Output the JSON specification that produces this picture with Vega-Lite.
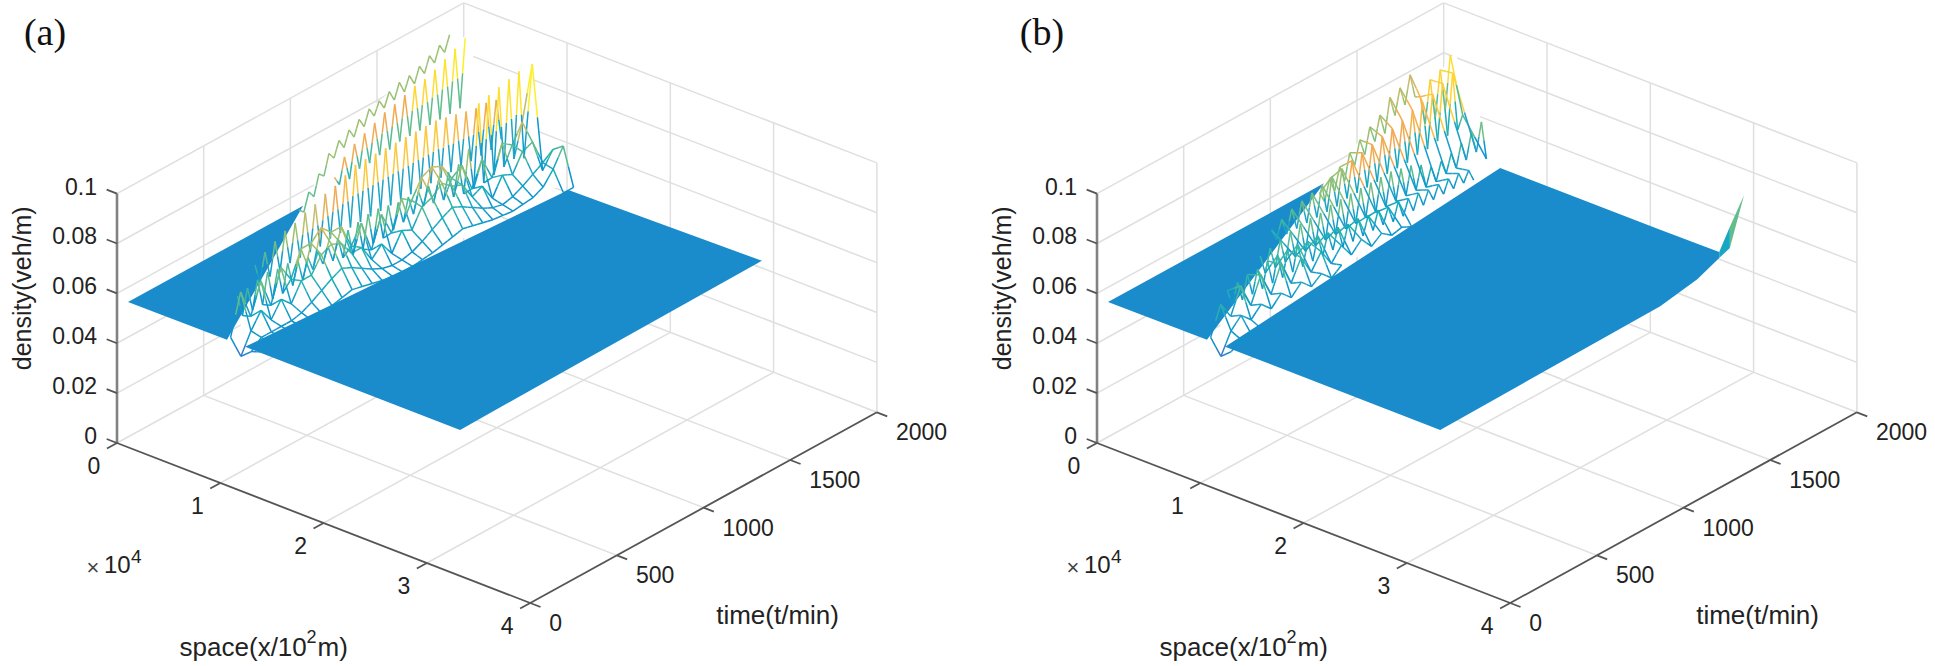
{"$schema":"https://vega.github.io/schema/vega-lite/v6.json","width":1935,"height":666,"autosize":{"type":"fit","contains":"padding"},"padding":0,"background":"white","config":{"view":{"stroke":null}},
"data":{"values":[
{"k":"f","p":["a","b"],"s":10000,"t":0,"d":0,"t2":2000},{"k":"f","p":["a","b"],"s":20000,"t":0,"d":0,"t2":2000},{"k":"f","p":["a","b"],"s":30000,"t":0,"d":0,"t2":2000},
{"k":"f","p":["a","b"],"s":0,"t":500,"d":0,"s2":40000},{"k":"f","p":["a","b"],"s":0,"t":1000,"d":0,"s2":40000},{"k":"f","p":["a","b"],"s":0,"t":1500,"d":0,"s2":40000},
{"k":"f","p":["a","b"],"s":0,"t":0,"d":0,"t2":2000},{"k":"f","p":["a","b"],"s":0,"t":2000,"d":0,"s2":40000},
{"k":"f","p":["a","b"],"s":0,"t":500,"d":0,"d2":0.1},{"k":"f","p":["a","b"],"s":0,"t":1000,"d":0,"d2":0.1},{"k":"f","p":["a","b"],"s":0,"t":1500,"d":0,"d2":0.1},{"k":"f","p":["a","b"],"s":0,"t":2000,"d":0,"d2":0.1},
{"k":"f","p":["a","b"],"s":0,"t":0,"d":0.02,"t2":2000},{"k":"f","p":["a","b"],"s":0,"t":0,"d":0.04,"t2":2000},{"k":"f","p":["a","b"],"s":0,"t":0,"d":0.06,"t2":2000},{"k":"f","p":["a","b"],"s":0,"t":0,"d":0.08,"t2":2000},{"k":"f","p":["a","b"],"s":0,"t":0,"d":0.1,"t2":2000},
{"k":"f","p":["a","b"],"s":10000,"t":2000,"d":0,"d2":0.1},{"k":"f","p":["a","b"],"s":20000,"t":2000,"d":0,"d2":0.1},{"k":"f","p":["a","b"],"s":30000,"t":2000,"d":0,"d2":0.1},{"k":"f","p":["a","b"],"s":40000,"t":2000,"d":0,"d2":0.1},
{"k":"f","p":["a","b"],"s":0,"t":2000,"d":0.02,"s2":40000},{"k":"f","p":["a","b"],"s":0,"t":2000,"d":0.04,"s2":40000},{"k":"f","p":["a","b"],"s":0,"t":2000,"d":0.06,"s2":40000},{"k":"f","p":["a","b"],"s":0,"t":2000,"d":0.08,"s2":40000},{"k":"f","p":["a","b"],"s":0,"t":2000,"d":0.1,"s2":40000},
{"k":"z","p":["a","b"],"s":0,"t":0,"d":0,"d2":0.1},
{"k":"a","p":["a","b"],"s":0,"t":0,"d":0,"s2":40000},{"k":"a","p":["a","b"],"s":40000,"t":0,"d":0,"t2":2000},
{"k":"a","p":["a","b"],"s":0,"t":0,"d":0,"s2":-1000},{"k":"a","p":["a","b"],"s":0,"t":0,"d":0.02,"s2":-1000},{"k":"a","p":["a","b"],"s":0,"t":0,"d":0.04,"s2":-1000},{"k":"a","p":["a","b"],"s":0,"t":0,"d":0.06,"s2":-1000},{"k":"a","p":["a","b"],"s":0,"t":0,"d":0.08,"s2":-1000},{"k":"a","p":["a","b"],"s":0,"t":0,"d":0.1,"s2":-1000},
{"k":"a","p":["a","b"],"s":0,"t":0,"d":0,"t2":-58},{"k":"a","p":["a","b"],"s":10000,"t":0,"d":0,"t2":-58},{"k":"a","p":["a","b"],"s":20000,"t":0,"d":0,"t2":-58},{"k":"a","p":["a","b"],"s":30000,"t":0,"d":0,"t2":-58},{"k":"a","p":["a","b"],"s":40000,"t":0,"d":0,"t2":-58},
{"k":"a","p":["a","b"],"s":40000,"t":0,"d":0,"s2":41000},{"k":"a","p":["a","b"],"s":40000,"t":500,"d":0,"s2":41000},{"k":"a","p":["a","b"],"s":40000,"t":1000,"d":0,"s2":41000},{"k":"a","p":["a","b"],"s":40000,"t":1500,"d":0,"s2":41000},{"k":"a","p":["a","b"],"s":40000,"t":2000,"d":0,"s2":41000},
{"k":"lz","p":["a","b"],"s":0,"t":0,"d":0,"txt":"0"},{"k":"lz","p":["a","b"],"s":0,"t":0,"d":0.02,"txt":"0.02"},{"k":"lz","p":["a","b"],"s":0,"t":0,"d":0.04,"txt":"0.04"},{"k":"lz","p":["a","b"],"s":0,"t":0,"d":0.06,"txt":"0.06"},{"k":"lz","p":["a","b"],"s":0,"t":0,"d":0.08,"txt":"0.08"},{"k":"lz","p":["a","b"],"s":0,"t":0,"d":0.1,"txt":"0.1"},
{"k":"ls","p":["a","b"],"s":0,"t":0,"d":0,"txt":"0"},{"k":"ls","p":["a","b"],"s":10000,"t":0,"d":0,"txt":"1"},{"k":"ls","p":["a","b"],"s":20000,"t":0,"d":0,"txt":"2"},{"k":"ls","p":["a","b"],"s":30000,"t":0,"d":0,"txt":"3"},{"k":"ls","p":["a","b"],"s":40000,"t":0,"d":0,"txt":"4"},
{"k":"lt","p":["a","b"],"s":40000,"t":0,"d":0,"txt":"0"},{"k":"lt","p":["a","b"],"s":40000,"t":500,"d":0,"txt":"500"},{"k":"lt","p":["a","b"],"s":40000,"t":1000,"d":0,"txt":"1000"},{"k":"lt","p":["a","b"],"s":40000,"t":1500,"d":0,"txt":"1500"},{"k":"lt","p":["a","b"],"s":40000,"t":2000,"d":0,"txt":"2000"},
{"k":"td","p":["a","b"],"s":0,"t":0,"d":0.05,"txt":"density(veh/m)"},{"k":"tt","p":["a","b"],"s":40000,"t":1000,"d":0,"txt":"time(t/min)"},
{"k":"t1","p":["a","b"],"s":20000,"t":0,"d":0,"txt":"space(x/10"},{"k":"t2","p":["a","b"],"s":20000,"t":0,"d":0,"txt":"2"},{"k":"t3","p":["a","b"],"s":20000,"t":0,"d":0,"txt":"m)"},
{"k":"e1","p":["a","b"],"s":0,"t":0,"d":0,"txt":"×"},{"k":"e2","p":["a","b"],"s":0,"t":0,"d":0,"txt":"10"},{"k":"e3","p":["a","b"],"s":0,"t":0,"d":0,"txt":"4"},
{"k":"pa","p":"a","s":0,"t":0,"d":0.1,"txt":"(a)"},{"k":"pb","p":"b","s":0,"t":0,"d":0.1,"txt":"(b)"},
{"k":"w","p":"a","s":11000,"t":58,"d":0.075,"s2":11900,"t2":0,"d2":0.06},{"k":"w","p":"a","s":3000,"t":894,"d":0.0653,"s2":14000,"t2":239,"d2":0.06},{"k":"w","p":"a","s":3000,"t":1067,"d":0.0826,"s2":14000,"t2":412,"d2":0.06},{"k":"w","p":"a","s":3000,"t":1321,"d":0.0908,"s2":14000,"t2":666,"d2":0.06},{"k":"w","p":"a","s":3000,"t":1529,"d":0.0946,"s2":14000,"t2":874,"d2":0.06},{"k":"w","p":"a","s":3000,"t":1754,"d":0.1022,"s2":14000,"t2":1099,"d2":0.06},{"k":"w","p":"a","s":5000,"t":1742,"d":0.103,"s2":14000,"t2":1204,"d2":0.06},{"k":"w","p":"a","s":6000,"t":1740,"d":0.08,"s2":14000,"t2":1260,"d2":0.06},{"k":"w","p":"a","s":11000,"t":1740,"d":0.103,"s2":14000,"t2":1560,"d2":0.06},{"k":"w","p":"a","s":12000,"t":1740,"d":0.062,"s2":14000,"t2":1625,"d2":0.06},{"k":"w","p":"a","s":14000,"t":1740,"d":0.075,"s2":14000,"t2":1740,"d2":0.06},
{"k":"w","p":"b","s":11000,"t":58,"d":0.071,"s2":11900,"t2":0,"d2":0.06},{"k":"w","p":"b","s":5000,"t":971,"d":0.0695,"s2":11000,"t2":613,"d2":0.06},{"k":"w","p":"b","s":5000,"t":1162,"d":0.08,"s2":11000,"t2":804,"d2":0.06},{"k":"w","p":"b","s":5000,"t":1520,"d":0.0995,"s2":11000,"t2":1162,"d2":0.06},{"k":"w","p":"b","s":5000,"t":1548,"d":0.086,"s2":11000,"t2":1191,"d2":0.06},{"k":"w","p":"b","s":5000,"t":1767,"d":0.097,"s2":11000,"t2":1410,"d2":0.06},{"k":"w","p":"b","s":8000,"t":1733,"d":0.0773,"s2":10000,"t2":1612,"d2":0.06},{"k":"w","p":"b","s":10000,"t":1740,"d":0.06},
{"k":"g","g":"a1","p":"a","c":0.058,"s":1065,"t":0,"d":0.0582},{"k":"g","g":"a1","p":"a","c":0.058,"s":1065,"t":571,"d":0.0582,"s2":10650,"t2":0,"d2":0.0585},{"k":"g","g":"a1","p":"a","c":0.058,"s":1065,"t":1010,"d":0.0582},
{"k":"g","g":"a2","p":"a","c":0.058,"s":12400,"t":0,"d":0.0585},{"k":"g","g":"a2","p":"a","c":0.058,"s":13796,"t":1157,"d":0.0583,"s2":33200,"t2":0,"d2":0.0585},{"k":"g","g":"a2","p":"a","c":0.058,"s":14500,"t":1740,"d":0.0582,"s2":33200,"t2":625,"d2":0.059},{"k":"g","g":"a2","p":"a","c":0.058,"s":33200,"t":1742,"d":0.0597},
{"k":"g","g":"b1","p":"b","c":0.058,"s":1065,"t":0,"d":0.0582},{"k":"g","g":"b1","p":"b","c":0.058,"s":1065,"t":571,"d":0.0582,"s2":10650,"t2":0,"d2":0.0585},{"k":"g","g":"b1","p":"b","c":0.058,"s":1065,"t":1246,"d":0.0582},
{"k":"g","g":"b2","p":"b","c":0.058,"s":12400,"t":0,"d":0.0585},{"k":"g","g":"b2","p":"b","c":0.058,"s":10367,"t":1362,"d":0.0592,"s2":33200,"t2":0,"d2":0.0585},{"k":"g","g":"b2","p":"b","c":0.058,"s":9800,"t":1742,"d":0.0594,"s2":33200,"t2":346,"d2":0.0588},{"k":"g","g":"b2","p":"b","c":0.058,"s":25289,"t":1742,"d":0.0595,"s2":33200,"t2":1269,"d2":0.0596},{"k":"g","g":"b2","p":"b","c":0.058,"s":28880,"t":1742,"d":0.0596,"s2":33200,"t2":1482,"d2":0.0622},{"k":"g","g":"b2","p":"b","c":0.058,"s":31000,"t":1742,"d":0.0597,"s2":33200,"t2":1609,"d2":0.0659},
{"k":"g","g":"b3","p":"b","c":0.067,"s":31000,"t":1742,"d":0.0597,"s2":33200,"t2":1609,"d2":0.0659},{"k":"g","g":"b3","p":"b","c":0.067,"s":32000,"t":1744,"d":0.0714,"s2":33200,"t2":1673,"d2":0.0675},
{"k":"g","g":"b4","p":"b","c":0.076,"s":32000,"t":1744,"d":0.0714,"s2":33200,"t2":1673,"d2":0.0675},{"k":"g","g":"b4","p":"b","c":0.076,"s":33200,"t":1754,"d":0.0855},
{"p":"a","s":3000,"t":870,"d":0.065,"c":0.076},{"p":"a","s":3000,"t":899,"d":0.063,"c":0.076},{"p":"a","s":3000,"t":928,"d":0.07,"c":0.076},{"p":"a","s":3000,"t":957,"d":0.067,"c":0.076},{"p":"a","s":3000,"t":986,"d":0.075,"c":0.078},{"p":"a","s":3000,"t":1015,"d":0.073,"c":0.078},{"p":"a","s":3000,"t":1044,"d":0.081,"c":0.08},{"p":"a","s":3000,"t":1073,"d":0.078,"c":0.08},{"p":"a","s":3000,"t":1102,"d":0.084,"c":0.08},{"p":"a","s":3000,"t":1131,"d":0.08,"c":0.08},{"p":"a","s":3000,"t":1160,"d":0.086,"c":0.08},{"p":"a","s":3000,"t":1189,"d":0.082,"c":0.08},{"p":"a","s":3000,"t":1218,"d":0.088,"c":0.08},{"p":"a","s":3000,"t":1247,"d":0.084,"c":0.08},{"p":"a","s":3000,"t":1276,"d":0.09,"c":0.08},{"p":"a","s":3000,"t":1305,"d":0.086,"c":0.08},{"p":"a","s":3000,"t":1334,"d":0.091,"c":0.08},{"p":"a","s":3000,"t":1363,"d":0.087,"c":0.08},{"p":"a","s":3000,"t":1392,"d":0.0925,"c":0.08},{"p":"a","s":3000,"t":1421,"d":0.088,"c":0.08},{"p":"a","s":3000,"t":1450,"d":0.094,"c":0.08},{"p":"a","s":3000,"t":1479,"d":0.089,"c":0.08},{"p":"a","s":3000,"t":1508,"d":0.0945,"c":0.08},{"p":"a","s":3000,"t":1537,"d":0.09,"c":0.08},{"p":"a","s":3000,"t":1566,"d":0.096,"c":0.08},{"p":"a","s":3000,"t":1595,"d":0.092,"c":0.08},{"p":"a","s":3000,"t":1624,"d":0.098,"c":0.08},{"p":"a","s":3000,"t":1653,"d":0.094,"c":0.08},{"p":"a","s":3000,"t":1682,"d":0.1,"c":0.08},{"p":"a","s":3000,"t":1711,"d":0.096,"c":0.08},{"p":"a","s":3000,"t":1740,"d":0.102,"c":0.08},
{"p":"a","s":4500,"t":986,"d":0.076,"c":0.086},{"p":"a","s":4500,"t":1015,"d":0.072},{"p":"a","s":4500,"t":1044,"d":0.082,"c":0.086},{"p":"a","s":4500,"t":1073,"d":0.072},{"p":"a","s":4500,"t":1102,"d":0.085,"c":0.086},{"p":"a","s":4500,"t":1131,"d":0.074},{"p":"a","s":4500,"t":1160,"d":0.087,"c":0.086},{"p":"a","s":4500,"t":1189,"d":0.074},{"p":"a","s":4500,"t":1218,"d":0.089,"c":0.086},{"p":"a","s":4500,"t":1247,"d":0.075},{"p":"a","s":4500,"t":1276,"d":0.091,"c":0.086},{"p":"a","s":4500,"t":1305,"d":0.075},{"p":"a","s":4500,"t":1334,"d":0.092,"c":0.086},{"p":"a","s":4500,"t":1363,"d":0.076},{"p":"a","s":4500,"t":1392,"d":0.0935,"c":0.086},{"p":"a","s":4500,"t":1421,"d":0.076},{"p":"a","s":4500,"t":1450,"d":0.095},{"p":"a","s":4500,"t":1479,"d":0.076},{"p":"a","s":4500,"t":1508,"d":0.0955},{"p":"a","s":4500,"t":1537,"d":0.076},{"p":"a","s":4500,"t":1566,"d":0.097},{"p":"a","s":4500,"t":1595,"d":0.076},{"p":"a","s":4500,"t":1624,"d":0.099},{"p":"a","s":4500,"t":1653,"d":0.076},{"p":"a","s":4500,"t":1682,"d":0.101},{"p":"a","s":4500,"t":1711,"d":0.076},{"p":"a","s":4500,"t":1740,"d":0.103},
{"p":"a","s":8000,"t":319,"d":0.072},{"p":"a","s":8000,"t":348,"d":0.064},{"p":"a","s":8000,"t":377,"d":0.075},{"p":"a","s":8000,"t":406,"d":0.064},{"p":"a","s":8000,"t":435,"d":0.077},{"p":"a","s":8000,"t":464,"d":0.064},{"p":"a","s":8000,"t":493,"d":0.079},{"p":"a","s":8000,"t":522,"d":0.065},{"p":"a","s":8000,"t":551,"d":0.08},{"p":"a","s":8000,"t":580,"d":0.065},{"p":"a","s":8000,"t":609,"d":0.082},{"p":"a","s":8000,"t":638,"d":0.065},{"p":"a","s":8000,"t":667,"d":0.083},{"p":"a","s":8000,"t":696,"d":0.065},{"p":"a","s":8000,"t":725,"d":0.085},{"p":"a","s":8000,"t":754,"d":0.066},{"p":"a","s":8000,"t":783,"d":0.086},{"p":"a","s":8000,"t":812,"d":0.066},{"p":"a","s":8000,"t":841,"d":0.088},{"p":"a","s":8000,"t":870,"d":0.066},{"p":"a","s":8000,"t":899,"d":0.09},{"p":"a","s":8000,"t":928,"d":0.066},{"p":"a","s":8000,"t":957,"d":0.09},{"p":"a","s":8000,"t":986,"d":0.066},{"p":"a","s":8000,"t":1015,"d":0.09},{"p":"a","s":8000,"t":1044,"d":0.066},{"p":"a","s":8000,"t":1073,"d":0.09},{"p":"a","s":8000,"t":1102,"d":0.066},{"p":"a","s":8000,"t":1131,"d":0.09},{"p":"a","s":8000,"t":1160,"d":0.066},{"p":"a","s":8000,"t":1189,"d":0.09},{"p":"a","s":8000,"t":1218,"d":0.066},{"p":"a","s":8000,"t":1247,"d":0.09},{"p":"a","s":8000,"t":1276,"d":0.066},{"p":"a","s":8000,"t":1305,"d":0.09},{"p":"a","s":8000,"t":1334,"d":0.066},{"p":"a","s":8000,"t":1363,"d":0.09},{"p":"a","s":8000,"t":1392,"d":0.066},{"p":"a","s":8000,"t":1421,"d":0.089},{"p":"a","s":8000,"t":1450,"d":0.066},{"p":"a","s":8000,"t":1479,"d":0.088},{"p":"a","s":8000,"t":1508,"d":0.066},{"p":"a","s":8000,"t":1537,"d":0.087},{"p":"a","s":8000,"t":1566,"d":0.066},{"p":"a","s":8000,"t":1595,"d":0.086},{"p":"a","s":8000,"t":1624,"d":0.066},{"p":"a","s":8000,"t":1653,"d":0.086},{"p":"a","s":8000,"t":1682,"d":0.066},{"p":"a","s":8000,"t":1711,"d":0.085},{"p":"a","s":8000,"t":1740,"d":0.068},
{"p":"a","s":10200,"t":87,"d":0.072},{"p":"a","s":10200,"t":116,"d":0.063},{"p":"a","s":10200,"t":145,"d":0.073},{"p":"a","s":10200,"t":174,"d":0.063},{"p":"a","s":10200,"t":203,"d":0.074},{"p":"a","s":10200,"t":232,"d":0.063},{"p":"a","s":10200,"t":261,"d":0.075},{"p":"a","s":10200,"t":290,"d":0.063},{"p":"a","s":10200,"t":319,"d":0.074},{"p":"a","s":10200,"t":348,"d":0.063},{"p":"a","s":10200,"t":377,"d":0.074},{"p":"a","s":10200,"t":406,"d":0.064},{"p":"a","s":10200,"t":435,"d":0.073},{"p":"a","s":10200,"t":464,"d":0.064},{"p":"a","s":10200,"t":493,"d":0.072},{"p":"a","s":10200,"t":522,"d":0.066},{"p":"a","s":10200,"t":551,"d":0.072},{"p":"a","s":10200,"t":580,"d":0.066},{"p":"a","s":10200,"t":609,"d":0.072},{"p":"a","s":10200,"t":638,"d":0.065},{"p":"a","s":10200,"t":667,"d":0.073},{"p":"a","s":10200,"t":696,"d":0.064},{"p":"a","s":10200,"t":725,"d":0.074},{"p":"a","s":10200,"t":754,"d":0.063},{"p":"a","s":10200,"t":783,"d":0.075},{"p":"a","s":10200,"t":812,"d":0.063},{"p":"a","s":10200,"t":841,"d":0.076},{"p":"a","s":10200,"t":870,"d":0.063},{"p":"a","s":10200,"t":899,"d":0.076},{"p":"a","s":10200,"t":928,"d":0.063},{"p":"a","s":10200,"t":957,"d":0.075},{"p":"a","s":10200,"t":986,"d":0.064},{"p":"a","s":10200,"t":1015,"d":0.074},{"p":"a","s":10200,"t":1044,"d":0.065},{"p":"a","s":10200,"t":1073,"d":0.074},{"p":"a","s":10200,"t":1102,"d":0.066},{"p":"a","s":10200,"t":1131,"d":0.074},{"p":"a","s":10200,"t":1160,"d":0.067},{"p":"a","s":10200,"t":1189,"d":0.074},{"p":"a","s":10200,"t":1218,"d":0.066},{"p":"a","s":10200,"t":1247,"d":0.074},{"p":"a","s":10200,"t":1276,"d":0.065},{"p":"a","s":10200,"t":1305,"d":0.075},{"p":"a","s":10200,"t":1334,"d":0.064},{"p":"a","s":10200,"t":1363,"d":0.076},{"p":"a","s":10200,"t":1392,"d":0.063},{"p":"a","s":10200,"t":1421,"d":0.08},{"p":"a","s":10200,"t":1450,"d":0.063},{"p":"a","s":10200,"t":1479,"d":0.096},{"p":"a","s":10200,"t":1508,"d":0.063},{"p":"a","s":10200,"t":1537,"d":0.097},{"p":"a","s":10200,"t":1566,"d":0.064},{"p":"a","s":10200,"t":1595,"d":0.098},{"p":"a","s":10200,"t":1624,"d":0.065},{"p":"a","s":10200,"t":1653,"d":0.099},{"p":"a","s":10200,"t":1682,"d":0.066},{"p":"a","s":10200,"t":1711,"d":0.1},{"p":"a","s":10200,"t":1740,"d":0.064},
{"p":"a","s":11000,"t":0,"d":0.06},{"p":"a","s":12000,"t":0,"d":0.054},{"p":"a","s":13000,"t":0,"d":0.0575},{"p":"a","s":14000,"t":0,"d":0.059},{"p":"a","s":11000,"t":58,"d":0.076},{"p":"a","s":12000,"t":58,"d":0.062},{"p":"a","s":13000,"t":58,"d":0.061},{"p":"a","s":14000,"t":58,"d":0.06},{"p":"a","s":11000,"t":116,"d":0.064},{"p":"a","s":12000,"t":116,"d":0.068},{"p":"a","s":13000,"t":116,"d":0.061},{"p":"a","s":14000,"t":116,"d":0.06},{"p":"a","s":11000,"t":174,"d":0.076},{"p":"a","s":12000,"t":174,"d":0.062},{"p":"a","s":13000,"t":174,"d":0.061},{"p":"a","s":14000,"t":174,"d":0.06},{"p":"a","s":11000,"t":232,"d":0.064},{"p":"a","s":12000,"t":232,"d":0.068},{"p":"a","s":13000,"t":232,"d":0.061},{"p":"a","s":14000,"t":232,"d":0.06},{"p":"a","s":11000,"t":290,"d":0.077},{"p":"a","s":12000,"t":290,"d":0.064},{"p":"a","s":13000,"t":290,"d":0.062},{"p":"a","s":14000,"t":290,"d":0.0605},{"p":"a","s":11000,"t":348,"d":0.07},{"p":"a","s":12000,"t":348,"d":0.071},{"p":"a","s":13000,"t":348,"d":0.064},{"p":"a","s":14000,"t":348,"d":0.061},{"p":"a","s":11000,"t":406,"d":0.08},{"p":"a","s":12000,"t":406,"d":0.071},{"p":"a","s":13000,"t":406,"d":0.0665},{"p":"a","s":14000,"t":406,"d":0.062},{"p":"a","s":11000,"t":464,"d":0.08},{"p":"a","s":12000,"t":464,"d":0.077},{"p":"a","s":13000,"t":464,"d":0.069},{"p":"a","s":14000,"t":464,"d":0.063},{"p":"a","s":11000,"t":522,"d":0.084},{"p":"a","s":12000,"t":522,"d":0.079},{"p":"a","s":13000,"t":522,"d":0.071},{"p":"a","s":14000,"t":522,"d":0.064},{"p":"a","s":11000,"t":580,"d":0.08},{"p":"a","s":12000,"t":580,"d":0.077},{"p":"a","s":13000,"t":580,"d":0.069},{"p":"a","s":14000,"t":580,"d":0.063},{"p":"a","s":11000,"t":638,"d":0.08},{"p":"a","s":12000,"t":638,"d":0.071},{"p":"a","s":13000,"t":638,"d":0.0665},{"p":"a","s":14000,"t":638,"d":0.062},{"p":"a","s":11000,"t":696,"d":0.07},{"p":"a","s":12000,"t":696,"d":0.071},{"p":"a","s":13000,"t":696,"d":0.064},{"p":"a","s":14000,"t":696,"d":0.061},{"p":"a","s":11000,"t":754,"d":0.077},{"p":"a","s":12000,"t":754,"d":0.064},{"p":"a","s":13000,"t":754,"d":0.062},{"p":"a","s":14000,"t":754,"d":0.0605},{"p":"a","s":11000,"t":812,"d":0.064},{"p":"a","s":12000,"t":812,"d":0.068},{"p":"a","s":13000,"t":812,"d":0.061},{"p":"a","s":14000,"t":812,"d":0.06},{"p":"a","s":11000,"t":870,"d":0.076},{"p":"a","s":12000,"t":870,"d":0.062},{"p":"a","s":13000,"t":870,"d":0.061},{"p":"a","s":14000,"t":870,"d":0.06},{"p":"a","s":11000,"t":928,"d":0.0664},{"p":"a","s":12000,"t":928,"d":0.069},{"p":"a","s":13000,"t":928,"d":0.062},{"p":"a","s":14000,"t":928,"d":0.0605},{"p":"a","s":11000,"t":986,"d":0.078},{"p":"a","s":12000,"t":986,"d":0.067},{"p":"a","s":13000,"t":986,"d":0.064},{"p":"a","s":14000,"t":986,"d":0.061},{"p":"a","s":11000,"t":1044,"d":0.075},{"p":"a","s":12000,"t":1044,"d":0.074},{"p":"a","s":13000,"t":1044,"d":0.0665},{"p":"a","s":14000,"t":1044,"d":0.062},{"p":"a","s":11000,"t":1102,"d":0.082},{"p":"a","s":12000,"t":1102,"d":0.0756},{"p":"a","s":13000,"t":1102,"d":0.069},{"p":"a","s":14000,"t":1102,"d":0.063},{"p":"a","s":11000,"t":1160,"d":0.084},{"p":"a","s":12000,"t":1160,"d":0.079},{"p":"a","s":13000,"t":1160,"d":0.071},{"p":"a","s":14000,"t":1160,"d":0.064},{"p":"a","s":11000,"t":1218,"d":0.082},{"p":"a","s":12000,"t":1218,"d":0.0756},{"p":"a","s":13000,"t":1218,"d":0.069},{"p":"a","s":14000,"t":1218,"d":0.063},{"p":"a","s":11000,"t":1276,"d":0.075},{"p":"a","s":12000,"t":1276,"d":0.074},{"p":"a","s":13000,"t":1276,"d":0.0665},{"p":"a","s":14000,"t":1276,"d":0.062},{"p":"a","s":11000,"t":1334,"d":0.078},{"p":"a","s":12000,"t":1334,"d":0.067},{"p":"a","s":13000,"t":1334,"d":0.064},{"p":"a","s":14000,"t":1334,"d":0.061},{"p":"a","s":11000,"t":1392,"d":0.0664},{"p":"a","s":12000,"t":1392,"d":0.069},{"p":"a","s":13000,"t":1392,"d":0.062},{"p":"a","s":14000,"t":1392,"d":0.0605},{"p":"a","s":11000,"t":1450,"d":0.076},{"p":"a","s":12000,"t":1450,"d":0.062},{"p":"a","s":13000,"t":1450,"d":0.061},{"p":"a","s":14000,"t":1450,"d":0.06},{"p":"a","s":11000,"t":1508,"d":0.0664},{"p":"a","s":12000,"t":1508,"d":0.069},{"p":"a","s":13000,"t":1508,"d":0.062},{"p":"a","s":14000,"t":1508,"d":0.0605},{"p":"a","s":11000,"t":1566,"d":0.078},{"p":"a","s":12000,"t":1566,"d":0.067},{"p":"a","s":13000,"t":1566,"d":0.064},{"p":"a","s":14000,"t":1566,"d":0.061},{"p":"a","s":11000,"t":1624,"d":0.075},{"p":"a","s":12000,"t":1624,"d":0.074},{"p":"a","s":13000,"t":1624,"d":0.0665},{"p":"a","s":14000,"t":1624,"d":0.063},{"p":"a","s":11000,"t":1682,"d":0.082},{"p":"a","s":12000,"t":1682,"d":0.0756},{"p":"a","s":13000,"t":1682,"d":0.069},{"p":"a","s":14000,"t":1682,"d":0.068},{"p":"a","s":15000,"t":1682,"d":0.06},{"p":"a","s":11000,"t":1740,"d":0.103},{"p":"a","s":12000,"t":1740,"d":0.062},{"p":"a","s":13000,"t":1740,"d":0.072},{"p":"a","s":14000,"t":1740,"d":0.075},{"p":"a","s":15000,"t":1740,"d":0.06},
{"p":"b","s":5000,"t":986,"d":0.0705,"c":0.08},{"p":"b","s":5000,"t":1015,"d":0.066,"c":0.078},{"p":"b","s":5000,"t":1044,"d":0.074,"c":0.08},{"p":"b","s":5000,"t":1073,"d":0.068,"c":0.078},{"p":"b","s":5000,"t":1102,"d":0.0765,"c":0.08},{"p":"b","s":5000,"t":1131,"d":0.07,"c":0.078},{"p":"b","s":5000,"t":1160,"d":0.08,"c":0.08},{"p":"b","s":5000,"t":1189,"d":0.074,"c":0.078},{"p":"b","s":5000,"t":1218,"d":0.083,"c":0.08},{"p":"b","s":5000,"t":1247,"d":0.076,"c":0.078},{"p":"b","s":5000,"t":1276,"d":0.086,"c":0.08},{"p":"b","s":5000,"t":1305,"d":0.079,"c":0.078},{"p":"b","s":5000,"t":1334,"d":0.0885,"c":0.081},{"p":"b","s":5000,"t":1363,"d":0.08,"c":0.079},{"p":"b","s":5000,"t":1392,"d":0.0934,"c":0.082},{"p":"b","s":5000,"t":1421,"d":0.085,"c":0.08},{"p":"b","s":5000,"t":1450,"d":0.095,"c":0.082},{"p":"b","s":5000,"t":1479,"d":0.087,"c":0.08},{"p":"b","s":5000,"t":1508,"d":0.098,"c":0.083},{"p":"b","s":5000,"t":1537,"d":0.088,"c":0.081},{"p":"b","s":5000,"t":1566,"d":0.087},{"p":"b","s":5000,"t":1595,"d":0.075},{"p":"b","s":5000,"t":1624,"d":0.0916},{"p":"b","s":5000,"t":1653,"d":0.075},{"p":"b","s":5000,"t":1682,"d":0.0933},{"p":"b","s":5000,"t":1711,"d":0.076},{"p":"b","s":5000,"t":1740,"d":0.097},
{"p":"b","s":6200,"t":638,"d":0.071},{"p":"b","s":6200,"t":667,"d":0.066},{"p":"b","s":6200,"t":696,"d":0.073},{"p":"b","s":6200,"t":725,"d":0.066},{"p":"b","s":6200,"t":754,"d":0.075},{"p":"b","s":6200,"t":783,"d":0.066},{"p":"b","s":6200,"t":812,"d":0.076},{"p":"b","s":6200,"t":841,"d":0.066},{"p":"b","s":6200,"t":870,"d":0.077},{"p":"b","s":6200,"t":899,"d":0.066},{"p":"b","s":6200,"t":928,"d":0.078},{"p":"b","s":6200,"t":957,"d":0.066},{"p":"b","s":6200,"t":986,"d":0.079},{"p":"b","s":6200,"t":1015,"d":0.066},{"p":"b","s":6200,"t":1044,"d":0.08},{"p":"b","s":6200,"t":1073,"d":0.067},{"p":"b","s":6200,"t":1102,"d":0.081,"c":0.086},{"p":"b","s":6200,"t":1131,"d":0.067},{"p":"b","s":6200,"t":1160,"d":0.082,"c":0.086},{"p":"b","s":6200,"t":1189,"d":0.067},{"p":"b","s":6200,"t":1218,"d":0.083,"c":0.086},{"p":"b","s":6200,"t":1247,"d":0.067},{"p":"b","s":6200,"t":1276,"d":0.084,"c":0.086},{"p":"b","s":6200,"t":1305,"d":0.068},{"p":"b","s":6200,"t":1334,"d":0.085,"c":0.086},{"p":"b","s":6200,"t":1363,"d":0.068},{"p":"b","s":6200,"t":1392,"d":0.086,"c":0.086},{"p":"b","s":6200,"t":1421,"d":0.068},{"p":"b","s":6200,"t":1450,"d":0.088,"c":0.087},{"p":"b","s":6200,"t":1479,"d":0.069},{"p":"b","s":6200,"t":1508,"d":0.089,"c":0.088},{"p":"b","s":6200,"t":1537,"d":0.069},{"p":"b","s":6200,"t":1566,"d":0.09},{"p":"b","s":6200,"t":1595,"d":0.07},{"p":"b","s":6200,"t":1624,"d":0.092},{"p":"b","s":6200,"t":1653,"d":0.07},{"p":"b","s":6200,"t":1682,"d":0.094},{"p":"b","s":6200,"t":1711,"d":0.07},{"p":"b","s":6200,"t":1740,"d":0.075},
{"p":"b","s":8500,"t":435,"d":0.072},{"p":"b","s":8500,"t":464,"d":0.064},{"p":"b","s":8500,"t":493,"d":0.073},{"p":"b","s":8500,"t":522,"d":0.064},{"p":"b","s":8500,"t":551,"d":0.074},{"p":"b","s":8500,"t":580,"d":0.064},{"p":"b","s":8500,"t":609,"d":0.075},{"p":"b","s":8500,"t":638,"d":0.064},{"p":"b","s":8500,"t":667,"d":0.076},{"p":"b","s":8500,"t":696,"d":0.064},{"p":"b","s":8500,"t":725,"d":0.076},{"p":"b","s":8500,"t":754,"d":0.064},{"p":"b","s":8500,"t":783,"d":0.076},{"p":"b","s":8500,"t":812,"d":0.064},{"p":"b","s":8500,"t":841,"d":0.077},{"p":"b","s":8500,"t":870,"d":0.064},{"p":"b","s":8500,"t":899,"d":0.077},{"p":"b","s":8500,"t":928,"d":0.064},{"p":"b","s":8500,"t":957,"d":0.077},{"p":"b","s":8500,"t":986,"d":0.064},{"p":"b","s":8500,"t":1015,"d":0.077},{"p":"b","s":8500,"t":1044,"d":0.064},{"p":"b","s":8500,"t":1073,"d":0.077},{"p":"b","s":8500,"t":1102,"d":0.064},{"p":"b","s":8500,"t":1131,"d":0.077},{"p":"b","s":8500,"t":1160,"d":0.064},{"p":"b","s":8500,"t":1189,"d":0.077},{"p":"b","s":8500,"t":1218,"d":0.064},{"p":"b","s":8500,"t":1247,"d":0.076},{"p":"b","s":8500,"t":1276,"d":0.064},{"p":"b","s":8500,"t":1305,"d":0.075},{"p":"b","s":8500,"t":1334,"d":0.064},{"p":"b","s":8500,"t":1363,"d":0.073},{"p":"b","s":8500,"t":1392,"d":0.063},{"p":"b","s":8500,"t":1421,"d":0.07},{"p":"b","s":8500,"t":1450,"d":0.063},{"p":"b","s":8500,"t":1479,"d":0.07},{"p":"b","s":8500,"t":1508,"d":0.064},{"p":"b","s":8500,"t":1537,"d":0.071},{"p":"b","s":8500,"t":1566,"d":0.064},{"p":"b","s":8500,"t":1595,"d":0.073},{"p":"b","s":8500,"t":1624,"d":0.065},{"p":"b","s":8500,"t":1653,"d":0.075},{"p":"b","s":8500,"t":1682,"d":0.066},{"p":"b","s":8500,"t":1711,"d":0.077},{"p":"b","s":8500,"t":1740,"d":0.061},
{"p":"b","s":9700,"t":174,"d":0.07},{"p":"b","s":9700,"t":203,"d":0.063},{"p":"b","s":9700,"t":232,"d":0.071},{"p":"b","s":9700,"t":261,"d":0.063},{"p":"b","s":9700,"t":290,"d":0.072},{"p":"b","s":9700,"t":319,"d":0.063},{"p":"b","s":9700,"t":348,"d":0.072},{"p":"b","s":9700,"t":377,"d":0.063},{"p":"b","s":9700,"t":406,"d":0.073},{"p":"b","s":9700,"t":435,"d":0.063},{"p":"b","s":9700,"t":464,"d":0.073},{"p":"b","s":9700,"t":493,"d":0.063},{"p":"b","s":9700,"t":522,"d":0.073},{"p":"b","s":9700,"t":551,"d":0.063},{"p":"b","s":9700,"t":580,"d":0.073},{"p":"b","s":9700,"t":609,"d":0.063},{"p":"b","s":9700,"t":638,"d":0.072},{"p":"b","s":9700,"t":667,"d":0.063},{"p":"b","s":9700,"t":696,"d":0.072},{"p":"b","s":9700,"t":725,"d":0.063},{"p":"b","s":9700,"t":754,"d":0.071},{"p":"b","s":9700,"t":783,"d":0.063},{"p":"b","s":9700,"t":812,"d":0.071},{"p":"b","s":9700,"t":841,"d":0.062},{"p":"b","s":9700,"t":870,"d":0.07},{"p":"b","s":9700,"t":899,"d":0.062},{"p":"b","s":9700,"t":928,"d":0.07},{"p":"b","s":9700,"t":957,"d":0.062},{"p":"b","s":9700,"t":986,"d":0.069},{"p":"b","s":9700,"t":1015,"d":0.062},{"p":"b","s":9700,"t":1044,"d":0.069},{"p":"b","s":9700,"t":1073,"d":0.062},{"p":"b","s":9700,"t":1102,"d":0.068},{"p":"b","s":9700,"t":1131,"d":0.061},{"p":"b","s":9700,"t":1160,"d":0.068},{"p":"b","s":9700,"t":1189,"d":0.061},{"p":"b","s":9700,"t":1218,"d":0.067},{"p":"b","s":9700,"t":1247,"d":0.061},{"p":"b","s":9700,"t":1276,"d":0.067},{"p":"b","s":9700,"t":1305,"d":0.061},{"p":"b","s":9700,"t":1334,"d":0.066},{"p":"b","s":9700,"t":1363,"d":0.061},{"p":"b","s":9700,"t":1392,"d":0.066},{"p":"b","s":9700,"t":1421,"d":0.061},{"p":"b","s":9700,"t":1450,"d":0.066},{"p":"b","s":9700,"t":1479,"d":0.061},{"p":"b","s":9700,"t":1508,"d":0.066},{"p":"b","s":9700,"t":1537,"d":0.061},{"p":"b","s":9700,"t":1566,"d":0.065},{"p":"b","s":9700,"t":1595,"d":0.06},
{"p":"b","s":11000,"t":0,"d":0.06},{"p":"b","s":11000,"t":58,"d":0.071},{"p":"b","s":11000,"t":116,"d":0.064},{"p":"b","s":11000,"t":174,"d":0.074},{"p":"b","s":11000,"t":232,"d":0.064},{"p":"b","s":11000,"t":290,"d":0.074},{"p":"b","s":11000,"t":348,"d":0.064},{"p":"b","s":11000,"t":406,"d":0.074},{"p":"b","s":11000,"t":464,"d":0.064},{"p":"b","s":11000,"t":522,"d":0.072},{"p":"b","s":11000,"t":580,"d":0.064},{"p":"b","s":11000,"t":638,"d":0.07},{"p":"b","s":11000,"t":696,"d":0.063},{"p":"b","s":11000,"t":754,"d":0.068},{"p":"b","s":11000,"t":812,"d":0.062},{"p":"b","s":11000,"t":870,"d":0.066},{"p":"b","s":11000,"t":928,"d":0.061},{"p":"b","s":11000,"t":986,"d":0.064},{"p":"b","s":11000,"t":1044,"d":0.061},{"p":"b","s":11000,"t":1102,"d":0.062},{"p":"b","s":11000,"t":1160,"d":0.06},
{"p":"b","s":12000,"t":0,"d":0.054},{"p":"b","s":12000,"t":58,"d":0.062},{"p":"b","s":12000,"t":116,"d":0.066},{"p":"b","s":12000,"t":174,"d":0.062},{"p":"b","s":12000,"t":232,"d":0.066},{"p":"b","s":12000,"t":290,"d":0.062},{"p":"b","s":12000,"t":348,"d":0.066},{"p":"b","s":12000,"t":406,"d":0.062},{"p":"b","s":12000,"t":464,"d":0.066},{"p":"b","s":12000,"t":522,"d":0.062},{"p":"b","s":12000,"t":580,"d":0.065},{"p":"b","s":12000,"t":638,"d":0.061},{"p":"b","s":12000,"t":696,"d":0.064},
{"p":"b","s":13000,"t":0,"d":0.0575},{"p":"b","s":13000,"t":58,"d":0.06},{"p":"b","s":13000,"t":116,"d":0.06},{"p":"b","s":13000,"t":174,"d":0.06}
]},
"transform":[{"flatten":["p"]},
{"calculate":"117+(datum.p=='b'?980:0)+datum.s*0.01033+datum.t*0.17335","as":"X"},
{"calculate":"443+datum.s*0.004-datum.t*0.09535-datum.d*2494","as":"Y"},
{"calculate":"117+(datum.p=='b'?980:0)+(isValid(datum.s2)?datum.s2:datum.s)*0.01033+(isValid(datum.t2)?datum.t2:datum.t)*0.17335","as":"X2"},
{"calculate":"443+(isValid(datum.s2)?datum.s2:datum.s)*0.004-(isValid(datum.t2)?datum.t2:datum.t)*0.09535-(isValid(datum.d2)?datum.d2:datum.d)*2494","as":"Y2"},
{"calculate":"isValid(datum.c)?datum.c:datum.d","as":"col"}],
"encoding":{"x":{"field":"X","type":"quantitative","scale":{"domain":[0,1935],"nice":false,"zero":false},"axis":null},"y":{"field":"Y","type":"quantitative","scale":{"domain":[666,0],"nice":false,"zero":false},"axis":null}},
"resolve":{"scale":{"color":"independent"}},
"layer":[
{"transform":[{"filter":"datum.k=='f'"}],"mark":{"type":"rule","color":"#dfdfdf","strokeWidth":1.5},"encoding":{"x2":{"field":"X2"},"y2":{"field":"Y2"}}},
{"transform":[{"filter":"datum.k=='w'"}],"mark":{"type":"area","orient":"vertical","color":"white"},"encoding":{"y2":{"field":"Y2"},"detail":{"field":"p"}}},
{"transform":[{"filter":"datum.k=='g'"}],"mark":{"type":"area","orient":"vertical"},"encoding":{"y2":{"field":"Y2"},"detail":{"field":"g"},"color":{"field":"col","type":"quantitative","legend":null,"scale":{"domain":[0.058,0.066,0.073,0.079,0.083,0.086,0.09,0.098],"range":["#1a8ccc","#21a3c6","#3cb6a6","#8cc078","#c8bc6c","#f0ab52","#fbc83c","#fde030"]}}}},
{"transform":[{"filter":"!datum.k"},{"window":[{"op":"lead","field":"X","as":"XN"},{"op":"lead","field":"Y","as":"YN"},{"op":"lead","field":"col","as":"CN"}],"groupby":["p","s"],"sort":[{"field":"t","order":"ascending"}]},{"filter":"isValid(datum.XN)"},{"calculate":"(datum.X+datum.XN)/2","as":"XM"},{"calculate":"(datum.Y+datum.YN)/2","as":"YM"}],"mark":{"type":"rule","strokeWidth":1.5},"encoding":{"x2":{"field":"XM"},"y2":{"field":"YM"},"color":{"field":"col","type":"quantitative","legend":null,"scale":{"domain":[0.058,0.066,0.073,0.079,0.083,0.086,0.09,0.098],"range":["#1a8ccc","#21a3c6","#3cb6a6","#8cc078","#c8bc6c","#f0ab52","#fbc83c","#fde030"]}}}},
{"transform":[{"filter":"!datum.k"},{"window":[{"op":"lead","field":"X","as":"XN"},{"op":"lead","field":"Y","as":"YN"},{"op":"lead","field":"col","as":"CN"}],"groupby":["p","s"],"sort":[{"field":"t","order":"ascending"}]},{"filter":"isValid(datum.XN)"},{"calculate":"(datum.X+datum.XN)/2","as":"XM"},{"calculate":"(datum.Y+datum.YN)/2","as":"YM"}],"mark":{"type":"rule","strokeWidth":1.5},"encoding":{"x":{"field":"XN","type":"quantitative","scale":{"domain":[0,1935],"nice":false,"zero":false},"axis":null},"y":{"field":"YN","type":"quantitative","scale":{"domain":[666,0],"nice":false,"zero":false},"axis":null},"x2":{"field":"XM"},"y2":{"field":"YM"},"color":{"field":"CN","type":"quantitative","legend":null,"scale":{"domain":[0.058,0.066,0.073,0.079,0.083,0.086,0.09,0.098],"range":["#1a8ccc","#21a3c6","#3cb6a6","#8cc078","#c8bc6c","#f0ab52","#fbc83c","#fde030"]}}}},
{"transform":[{"filter":"!datum.k&&datum.t%58==0&&(datum.p=='b'||datum.s>=10200)"},{"window":[{"op":"lead","field":"X","as":"XN"},{"op":"lead","field":"Y","as":"YN"},{"op":"lead","field":"col","as":"CN"}],"groupby":["p","t"],"sort":[{"field":"s","order":"ascending"}]},{"filter":"isValid(datum.XN)"},{"calculate":"(datum.X+datum.XN)/2","as":"XM"},{"calculate":"(datum.Y+datum.YN)/2","as":"YM"}],"mark":{"type":"rule","strokeWidth":1.5},"encoding":{"x2":{"field":"XM"},"y2":{"field":"YM"},"color":{"field":"col","type":"quantitative","legend":null,"scale":{"domain":[0.058,0.066,0.073,0.079,0.083,0.086,0.09,0.098],"range":["#1a8ccc","#21a3c6","#3cb6a6","#8cc078","#c8bc6c","#f0ab52","#fbc83c","#fde030"]}}}},
{"transform":[{"filter":"!datum.k&&datum.t%58==0&&(datum.p=='b'||datum.s>=10200)"},{"window":[{"op":"lead","field":"X","as":"XN"},{"op":"lead","field":"Y","as":"YN"},{"op":"lead","field":"col","as":"CN"}],"groupby":["p","t"],"sort":[{"field":"s","order":"ascending"}]},{"filter":"isValid(datum.XN)"},{"calculate":"(datum.X+datum.XN)/2","as":"XM"},{"calculate":"(datum.Y+datum.YN)/2","as":"YM"}],"mark":{"type":"rule","strokeWidth":1.5},"encoding":{"x":{"field":"XN","type":"quantitative","scale":{"domain":[0,1935],"nice":false,"zero":false},"axis":null},"y":{"field":"YN","type":"quantitative","scale":{"domain":[666,0],"nice":false,"zero":false},"axis":null},"x2":{"field":"XM"},"y2":{"field":"YM"},"color":{"field":"CN","type":"quantitative","legend":null,"scale":{"domain":[0.058,0.066,0.073,0.079,0.083,0.086,0.09,0.098],"range":["#1a8ccc","#21a3c6","#3cb6a6","#8cc078","#c8bc6c","#f0ab52","#fbc83c","#fde030"]}}}},
{"transform":[{"filter":"datum.k=='z'"}],"mark":{"type":"rule","color":"#828282","strokeWidth":2.6},"encoding":{"x2":{"field":"X2"},"y2":{"field":"Y2"}}},
{"transform":[{"filter":"datum.k=='a'"}],"mark":{"type":"rule","color":"#555555","strokeWidth":1.8},"encoding":{"x2":{"field":"X2"},"y2":{"field":"Y2"}}},
{"transform":[{"filter":"datum.k=='lz'"}],"mark":{"type":"text","font":"Liberation Sans","fontSize":23,"color":"#222222","align":"right","baseline":"middle","dx":-20,"dy":-6},"encoding":{"text":{"field":"txt"}}},
{"transform":[{"filter":"datum.k=='ls'"}],"mark":{"type":"text","font":"Liberation Sans","fontSize":23,"color":"#222222","align":"center","baseline":"middle","dx":-23,"dy":24},"encoding":{"text":{"field":"txt"}}},
{"transform":[{"filter":"datum.k=='lt'"}],"mark":{"type":"text","font":"Liberation Sans","fontSize":23,"color":"#222222","align":"left","baseline":"middle","dx":19,"dy":21},"encoding":{"text":{"field":"txt"}}},
{"transform":[{"filter":"datum.k=='td'"}],"mark":{"type":"text","font":"Liberation Sans","fontSize":25,"color":"#222222","align":"center","baseline":"middle","angle":270,"dx":30,"dy":-94},"encoding":{"text":{"field":"txt"}}},
{"transform":[{"filter":"datum.k=='t1'"}],"mark":{"type":"text","font":"Liberation Sans","fontSize":26,"color":"#222222","align":"left","baseline":"middle","dx":-144,"dy":125},"encoding":{"text":{"field":"txt"}}},
{"transform":[{"filter":"datum.k=='t2'"}],"mark":{"type":"text","font":"Liberation Sans","fontSize":18,"color":"#222222","align":"left","baseline":"middle","dx":-17,"dy":115},"encoding":{"text":{"field":"txt"}}},
{"transform":[{"filter":"datum.k=='t3'"}],"mark":{"type":"text","font":"Liberation Sans","fontSize":26,"color":"#222222","align":"left","baseline":"middle","dx":-6,"dy":125},"encoding":{"text":{"field":"txt"}}},
{"transform":[{"filter":"datum.k=='tt'"}],"mark":{"type":"text","font":"Liberation Sans","fontSize":26,"color":"#222222","align":"center","baseline":"middle","dx":74,"dy":108},"encoding":{"text":{"field":"txt"}}},
{"transform":[{"filter":"datum.k=='e1'"}],"mark":{"type":"text","font":"Liberation Sans","fontSize":22,"color":"#444444","align":"center","baseline":"middle","dx":-24,"dy":125},"encoding":{"text":{"field":"txt"}}},
{"transform":[{"filter":"datum.k=='e2'"}],"mark":{"type":"text","font":"Liberation Sans","fontSize":24,"color":"#222222","align":"left","baseline":"middle","dx":-13,"dy":123},"encoding":{"text":{"field":"txt"}}},
{"transform":[{"filter":"datum.k=='e3'"}],"mark":{"type":"text","font":"Liberation Sans","fontSize":19,"color":"#222222","align":"left","baseline":"middle","dx":14,"dy":114},"encoding":{"text":{"field":"txt"}}},
{"transform":[{"filter":"datum.k=='pa'"}],"mark":{"type":"text","font":"Liberation Serif","fontSize":38,"color":"#111111","align":"center","baseline":"middle","dx":-72,"dy":-160},"encoding":{"text":{"field":"txt"}}},
{"transform":[{"filter":"datum.k=='pb'"}],"mark":{"type":"text","font":"Liberation Serif","fontSize":38,"color":"#111111","align":"center","baseline":"middle","dx":-55,"dy":-160},"encoding":{"text":{"field":"txt"}}}
]}
